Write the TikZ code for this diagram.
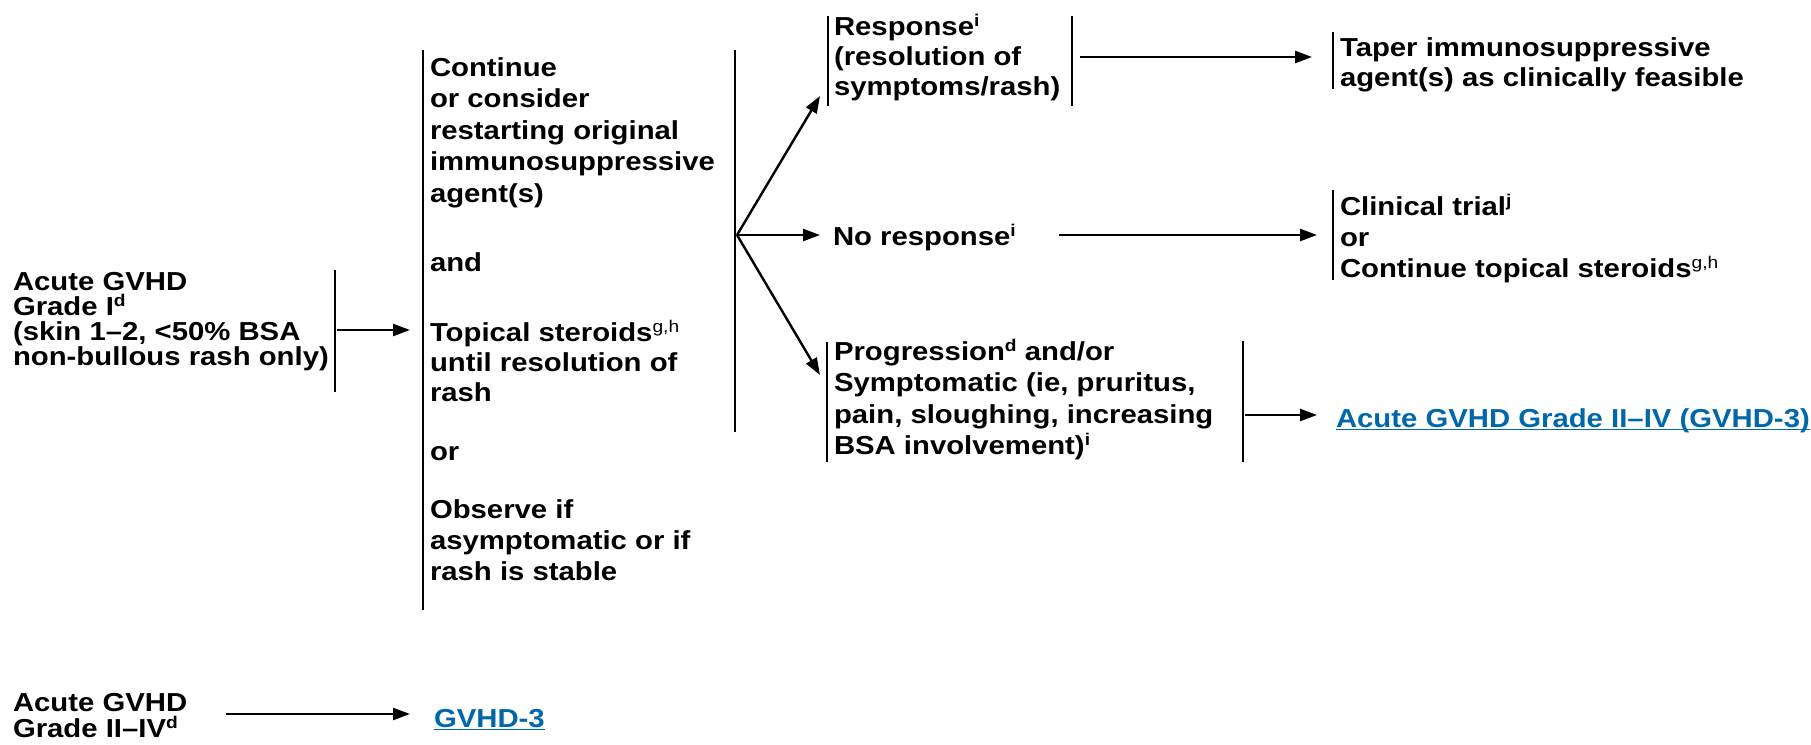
\documentclass[tikz,border=0pt]{standalone}
\usepackage{fontspec}
\setmainfont{Liberation Sans}[FakeStretch=1.127]
\usetikzlibrary{arrows.meta}
\definecolor{lnkblue}{RGB}{0,104,170}
\newcommand\sps[1]{\raisebox{9pt}{\fontsize{17}{17}\selectfont #1}}
\newcommand\spr[1]{\raisebox{9pt}{\fontsize{17}{17}\selectfont\mdseries #1}}
\newcommand\lnk[1]{\setbox0\hbox{#1}\rlap{\rule[-3pt]{\wd0}{1.5pt}}\box0}
\newcommand\stk[2]{\vtop{\baselineskip=#1\lineskiplimit=-\maxdimen\lineskip=0pt\halign{##\hfil\cr#2\crcr}}}
\newcommand\rowgap[1]{\cr\noalign{\vskip#1pt}}
\begin{document}
\begin{tikzpicture}[x=1pt,y=-1pt,
  txt/.style={anchor=base west,inner sep=0pt,outer sep=0pt,font=\fontsize{26}{30}\selectfont\bfseries},
  bar/.style={line width=2.4pt},
  arr/.style={line width=2.4pt,-{Triangle[length=17pt,width=12pt]}}]
\useasboundingbox (0,0) rectangle (1811,744);

% left entry node
\node[txt] (g1) at (13,290) {\stk{25pt}{Acute GVHD\cr Grade I\sps{d}\cr (skin 1--2, <50\% BSA\cr non-bullous rash only)}};
\coordinate (b1t) at (335,270); \coordinate (b1b) at (335,392);
\draw[bar] (b1t) -- (b1b);
\coordinate (a1s) at (337,330); \coordinate (a1e) at (410,330);
\draw[arr] (a1s) -- (a1e);

% middle treatment node
\node[txt] (m) at (430,76) {\stk{0pt}{Continue\rowgap{31.5}or consider\rowgap{31.5}restarting original\rowgap{31.5}immunosuppressive\rowgap{31.5}agent(s)\rowgap{69}and\rowgap{70.5}Topical steroids\spr{g,h}\rowgap{30}until resolution of\rowgap{30}rash\rowgap{59}or\rowgap{57.5}Observe if\rowgap{31}asymptomatic or if\rowgap{31}rash is stable}};
\coordinate (mlt) at (423,50); \coordinate (mlb) at (423,610);
\draw[bar] (mlt) -- (mlb);
\coordinate (mrt) at (735,50); \coordinate (mrb) at (735,432);
\draw[bar] (mrt) -- (mrb);

% fan
\coordinate (fan) at (737,235);
\coordinate (tipR) at (820,96);
\coordinate (tipN) at (820,235);
\coordinate (tipP) at (820,375);
\draw[arr] (fan) -- (tipR);
\draw[arr] (fan) -- (tipN);
\draw[arr] (fan) -- (tipP);

% response
\node[txt] (resp) at (834,35) {\stk{30pt}{Response\sps{i}\cr (resolution of\cr symptoms/rash)}};
\coordinate (rlt) at (828,16); \coordinate (rlb) at (828,106);
\draw[bar] (rlt) -- (rlb);
\coordinate (rrt) at (1072,16); \coordinate (rrb) at (1072,106);
\draw[bar] (rrt) -- (rrb);
\coordinate (a2s) at (1080,57); \coordinate (a2e) at (1312,57);
\draw[arr] (a2s) -- (a2e);

% taper
\node[txt] (taper) at (1340,56) {\stk{30pt}{Taper immunosuppressive\cr agent(s) as clinically feasible}};
\coordinate (tlt) at (1333,32); \coordinate (tlb) at (1333,89);
\draw[bar] (tlt) -- (tlb);

% no response
\node[txt] (nr) at (833,245) {No response\sps{i}};
\coordinate (a3s) at (1059,235); \coordinate (a3e) at (1317,235);
\draw[arr] (a3s) -- (a3e);

% clinical trial
\node[txt] (ct) at (1340,215) {\stk{31pt}{Clinical trial\sps{j}\cr or\cr Continue topical steroids\spr{g,h}}};
\coordinate (clt) at (1333,190); \coordinate (clb) at (1333,280);
\draw[bar] (clt) -- (clb);

% progression
\node[txt] (prog) at (834,360) {\stk{31.5pt}{Progression\sps{d} and/or\cr Symptomatic (ie, pruritus,\cr pain, sloughing, increasing\cr BSA involvement)\sps{i}}};
\coordinate (plt) at (827,342); \coordinate (plb) at (827,462);
\draw[bar] (plt) -- (plb);
\coordinate (prt) at (1243,341); \coordinate (prb) at (1243,462);
\draw[bar] (prt) -- (prb);
\coordinate (a4s) at (1245,415); \coordinate (a4e) at (1317,415);
\draw[arr] (a4s) -- (a4e);
\node[txt,text=lnkblue] (lk1) at (1336,427) {\lnk{Acute GVHD Grade II--IV (GVHD-3)}};

% bottom row
\node[txt] (g2) at (13,711) {\stk{26pt}{Acute GVHD\cr Grade II--IV\sps{d}}};
\coordinate (a5s) at (226,714); \coordinate (a5e) at (410,714);
\draw[arr] (a5s) -- (a5e);
\node[txt,text=lnkblue] (lk2) at (434,727) {\lnk{GVHD-3}};
\end{tikzpicture}
\end{document}
